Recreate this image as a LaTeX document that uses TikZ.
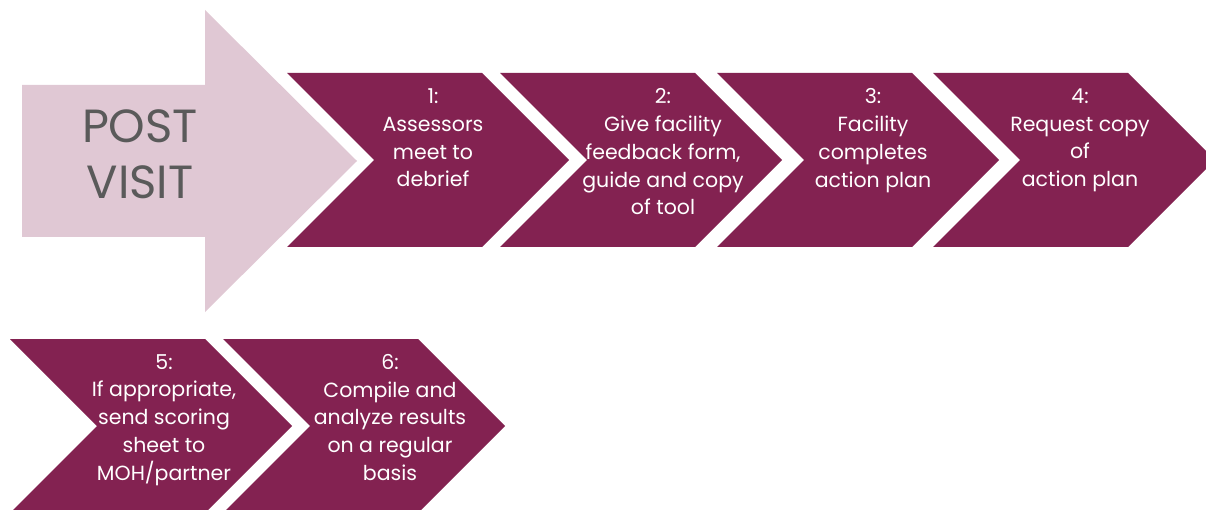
\documentclass[tikz,border=0pt]{standalone}
\usepackage{fontspec}
\setmainfont{Poppins}
\definecolor{plum}{RGB}{131,34,81}
\definecolor{lightplum}{RGB}{224,200,212}
\definecolor{postgray}{RGB}{90,90,90}
\begin{document}
\begin{tikzpicture}[x=1pt,y=-1pt,
  chev/.style={fill=plum,draw=none},
  steptext/.style={text=white,align=center,anchor=north,inner sep=0pt,
    font=\fontsize{20.5}{27.8}\selectfont}]
\useasboundingbox (0,0) rectangle (1206,510);
\clip (0,0) rectangle (1206,510);
% big arrow
\fill[lightplum] (22,85) -- (205,85) -- (205,10) -- (357,161) -- (205,312) -- (205,237) -- (22,237) -- cycle;
\node[text=postgray,align=center,font=\fontsize{46.5}{56}\selectfont,inner sep=0pt] (post) at (140,154) {POST\\VISIT};
% chevrons row 1
\foreach \L in {287,500,717,933}{
  \fill[chev] (\L,73) -- (\L+195,73) -- (\L+282,160) -- (\L+195,247) -- (\L,247) -- (\L+87,160) -- cycle;
}
% row 2
\foreach \L in {10,223}{
  \fill[chev] (\L,339) -- (\L+195,339) -- (\L+282,426) -- (\L+195,513) -- (\L,513) -- (\L+87,426) -- cycle;
}
\node[steptext] (t1) at (433,88.5) {1:\\Assessors\\meet to\\debrief};
\node[steptext] (t2) at (663,88.5) {2:\\Give facility\\feedback form,\\guide and copy\\of tool};
\node[steptext] (t3) at (873,88.5) {3:\\Facility\\completes\\action plan};
\node[steptext] (t4) at (1080,88.5) {4:\\Request copy\\of\\action plan};
\node[steptext] (t5) at (164,354) {5:\\If appropriate,\\send scoring\\sheet to\\MOH/partner};
\node[steptext] (t6) at (390,354) {6:\\Compile and\\analyze results\\on a regular\\basis};
\end{tikzpicture}
\end{document}
